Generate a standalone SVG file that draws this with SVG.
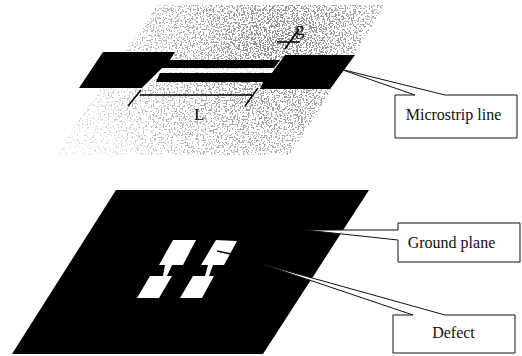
<svg xmlns="http://www.w3.org/2000/svg" width="522" height="356" viewBox="0 0 522 356">
<style>
.k{fill:#000}
.w{fill:#fff}
.c{fill:#fff;stroke:#111;stroke-width:1}
.d{fill:none;stroke:#000;stroke-width:1.5}
text{font-family:"Liberation Serif","Times New Roman",serif;fill:#111}
.t{font-size:16px;text-anchor:middle}
</style>
<defs>
<radialGradient id="dens" gradientUnits="userSpaceOnUse" cx="280" cy="45" r="225">
<stop offset="0" stop-color="#000" stop-opacity=".44"/>
<stop offset=".3" stop-color="#000" stop-opacity=".36"/>
<stop offset=".6" stop-color="#000" stop-opacity=".27"/>
<stop offset="1" stop-color="#000" stop-opacity=".12"/>
</radialGradient>
<filter id="grain" filterUnits="userSpaceOnUse" x="0" y="0" width="522" height="180" color-interpolation-filters="sRGB">
<feTurbulence type="fractalNoise" baseFrequency="0.62" numOctaves="1" seed="4" result="n"/>
<feColorMatrix in="n" type="matrix" values="0 0 0 0 0  0 0 0 0 0  0 0 0 0 0  3 0 0 0 -1" result="na"/>
<feComposite in="na" in2="SourceGraphic" operator="arithmetic" k1="0" k2="1" k3="1" k4="-0.5" result="sum"/>
<feComponentTransfer in="sum" result="th"><feFuncA type="discrete" tableValues="0 1"/></feComponentTransfer>
<feComposite in="th" in2="SourceAlpha" operator="in"/>
</filter>
</defs>
<rect width="522" height="356" fill="#fff"/>
<g id="substrate">
<polygon points="157,5 385,5 290,155 55,155" fill="url(#dens)" filter="url(#grain)"/>
</g>
<g id="microstrip">
<polygon class="k" points="103,52 175,52 170,60 280,60 274,68 162,68 142,88 79,88"/>
<polygon class="k" points="285,55 355,55 330,89 260,89 263,82 156,82 160,73 272,73"/>
<polygon class="w" points="162,68.5 274,68.5 271,72.5 160,72.5 152,82 146,87 142,88" opacity=".8"/>
</g>
<g id="ground-plane">
<polygon class="k" points="116,190 369,190 263,354 12,354"/>
</g>
<g id="defect">
<polygon class="w" points="216,240 237,241 224,265 201,265"/>
<polygon class="w" points="208,265 213,265 209,276 205,276"/>
<polygon class="w" points="193,276 214,276 202,298 180,298"/>
<polygon class="w" points="173,240 196,240 183,265 159,265"/>
<polygon class="w" points="165,265 172,265 167,276 163,276"/>
<polygon class="w" points="150,276 172,276 159,298 137,298"/>
<path d="M217,251 L231,254" stroke="#000" stroke-width="1.6" fill="none"/>
</g>
<g id="connectors">
<path class="d" d="M128,106 L141,90 M245,106 L258,88 M140,95 L252,95"/>
<path class="d" d="M277,42 L300,42 M285,49 L299,29"/>
</g>
<g id="label-L"><text x="194" y="120" font-size="17">L</text></g>
<g id="label-g"><text x="295" y="35" font-size="19" fill="#000">g</text></g>
<g id="microstrip-label">
<path class="c" d="M340,69 L445,95 H517 V138 H395 V95 H415 Z"/>
<text class="t" x="453.5" y="120">Microstrip line</text>
</g>
<g id="ground-label">
<path class="c" d="M305,230 L398,230 V223 H520 V262 H398 V240 Z"/>
<text class="t" x="451.5" y="248">Ground plane</text>
</g>
<g id="defect-label">
<path class="c" d="M262,264 L445,315 H515 V353 H393 V315 H413 Z"/>
<text class="t" x="453.5" y="338">Defect</text>
</g>
</svg>
